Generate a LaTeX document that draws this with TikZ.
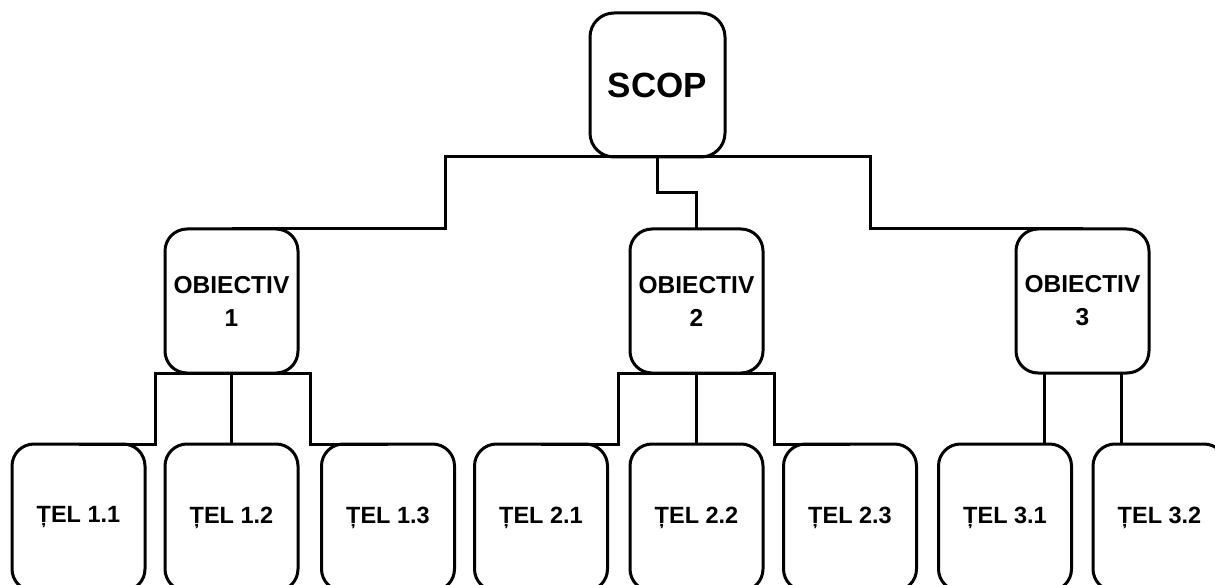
\documentclass[tikz,border=0pt]{standalone}
\usepackage{fontspec}
\setmainfont{Liberation Sans}
\begin{document}
\begin{tikzpicture}[x=1pt,y=-1pt,
  box/.style={draw, line width=3pt, rounded corners=22pt, minimum width=133pt, minimum height=144pt, inner sep=0pt, outer sep=0pt, align=center, font=\fontsize{23.5}{33}\selectfont\bfseries},
  objbox/.style={box, font=\fontsize{24.5}{33}\selectfont\bfseries},
  telbox/.style={box, minimum height=147pt},
  topbox/.style={box, minimum width=135pt, rounded corners=24pt, font=\fontsize{35}{40}\selectfont\bfseries},
  conn/.style={line width=3pt}]
\useasboundingbox (0,0) rectangle (1215,585);
\clip (0,0) rectangle (1215,585);
\node[topbox] (scop) at (657.5,85) {\raisebox{-2pt}{SCOP}};
\node[objbox] (o1) at (231.5,301) {OBIECTIV\\1};
\node[objbox] (o2) at (696.5,301) {OBIECTIV\\2};
\node[objbox] (o3) at (1082.5,301) {OBIECTIV\\3};
\node[telbox] (t11) at (78.5,517.5) {\raisebox{-2.5pt}{ȚEL 1.1}};
\node[telbox] (t12) at (231.5,517.5) {\raisebox{-2.5pt}{ȚEL 1.2}};
\node[telbox] (t13) at (388,517.5) {\raisebox{-2.5pt}{ȚEL 1.3}};
\node[telbox] (t21) at (541,517.5) {\raisebox{-2.5pt}{ȚEL 2.1}};
\node[telbox] (t22) at (696.5,517.5) {\raisebox{-2.5pt}{ȚEL 2.2}};
\node[telbox] (t23) at (850,517.5) {\raisebox{-2.5pt}{ȚEL 2.3}};
\node[telbox] (t31) at (1005,517.5) {\raisebox{-2.5pt}{ȚEL 3.1}};
\node[telbox] (t32) at (1159.5,517.5) {\raisebox{-2.5pt}{ȚEL 3.2}};
% top level
\draw[conn] (scop.south) -| (445,229) -- (o1.north);
\draw[conn] (scop.south) -- ++(0,36) -| (o2.north);
\draw[conn] (scop.south) -| (870,229) -- (o3.north);
% objective 1
\draw[conn] (o1.south) -| (155,444) -- (t11.north);
\draw[conn] (o1.south) -- (t12.north);
\draw[conn] (o1.south) -| (310,444) -- (t13.north);
% objective 2
\draw[conn] (o2.south) -| (618,444) -- (t21.north);
\draw[conn] (o2.south) -- (t22.north);
\draw[conn] (o2.south) -| (774,444) -- (t23.north);
% objective 3
\draw[conn] ([xshift=-38.5pt]o3.south) -- ([xshift=-38.5pt]o3.south |- t31.north);
\draw[conn] ([xshift=38.5pt]o3.south) -- ([xshift=38.5pt]o3.south |- t32.north);
\end{tikzpicture}
\end{document}
